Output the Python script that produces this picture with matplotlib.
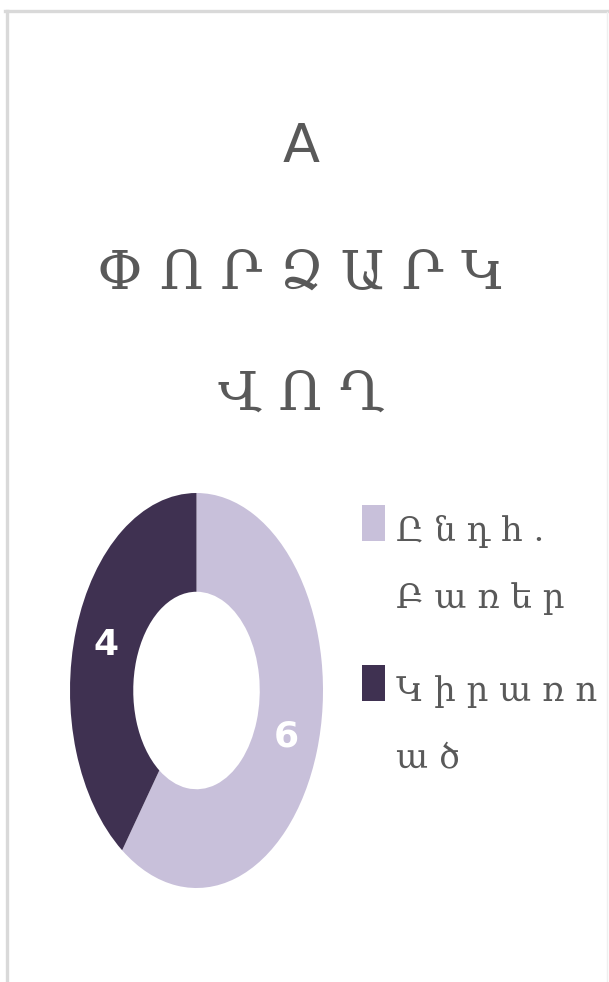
import matplotlib
matplotlib.use('Agg')
import matplotlib.pyplot as plt
from matplotlib.patches import Rectangle
from matplotlib.lines import Line2D

# chart data
categories = ['Ը ն դ հ .\nԲ ա ռ ե ր', 'Կ ի ր ա ռ ո\nա ծ']
values = [6, 4]
colors = ['#C8C0DA', '#3F3151']
title_lines = ['A', 'Փ Ո Ր Ձ Ա Ր Կ', 'Վ Ո Ղ']

W, H = 609, 982
text_grey = '#595959'
armenian = ['DejaVu Serif', 'DejaVu Sans']


def fx(px):
    return px / W


def fy(py):
    # pixel rows counted from the top
    return 1 - py / H


fig = plt.figure(figsize=(W / 100, H / 100), dpi=100)
fig.patch.set_facecolor('white')

# light grey frame round the chart area
frame = '#D9D9D9'
fig.add_artist(Line2D([fx(6.5), fx(6.5)], [fy(10.5), fy(H + 5)], color=frame, linewidth=2.4))
fig.add_artist(Line2D([fx(5), fx(W + 5)], [fy(10.5), fy(10.5)], color=frame, linewidth=2.4))
fig.add_artist(Line2D([fx(607), fx(607)], [fy(12), fy(H + 5)], color='#EFEFEF', linewidth=1.0))

# title, one text per line
title_y = [162, 289, 410]
for line, y in zip(title_lines, title_y):
    fam = ['DejaVu Sans'] if line == 'A' else armenian
    fig.text(fx(301), fy(y), line, ha='center', va='baseline',
             fontsize=39, color=text_grey, family=fam)

# doughnut
ax = fig.add_axes([fx(70), fy(888), fx(323) - fx(70), fy(493) - fy(888)])
wedges, texts, autotexts = ax.pie(
    values, colors=colors, startangle=90, counterclock=False,
    wedgeprops=dict(width=0.5, edgecolor='none'),
    autopct=lambda p: '%d' % round(p * sum(values) / 100.0),
    pctdistance=0.75,
    textprops=dict(color='white', fontsize=26, fontweight='bold', family='DejaVu Sans'))
ax.set_aspect('auto')
ax.set_xlim(-1, 1)
ax.set_ylim(-1, 1)
ax.axis('off')

# legend: coloured square plus two text lines per entry
legend_top = [505, 665]
line_gap = 67
for cat, col, top in zip(categories, colors, legend_top):
    fig.add_artist(Rectangle((fx(362), fy(top + 36)), fx(385) - fx(362), fy(top) - fy(top + 36),
                             transform=fig.transFigure, facecolor=col, edgecolor='none'))
    for k, part in enumerate(cat.split('\n')):
        fig.text(fx(396), fy(top + 36 + k * line_gap), part, ha='left', va='baseline',
                 fontsize=24.5, color=text_grey, family=armenian)

plt.savefig('out.png', dpi=100, facecolor='white')
